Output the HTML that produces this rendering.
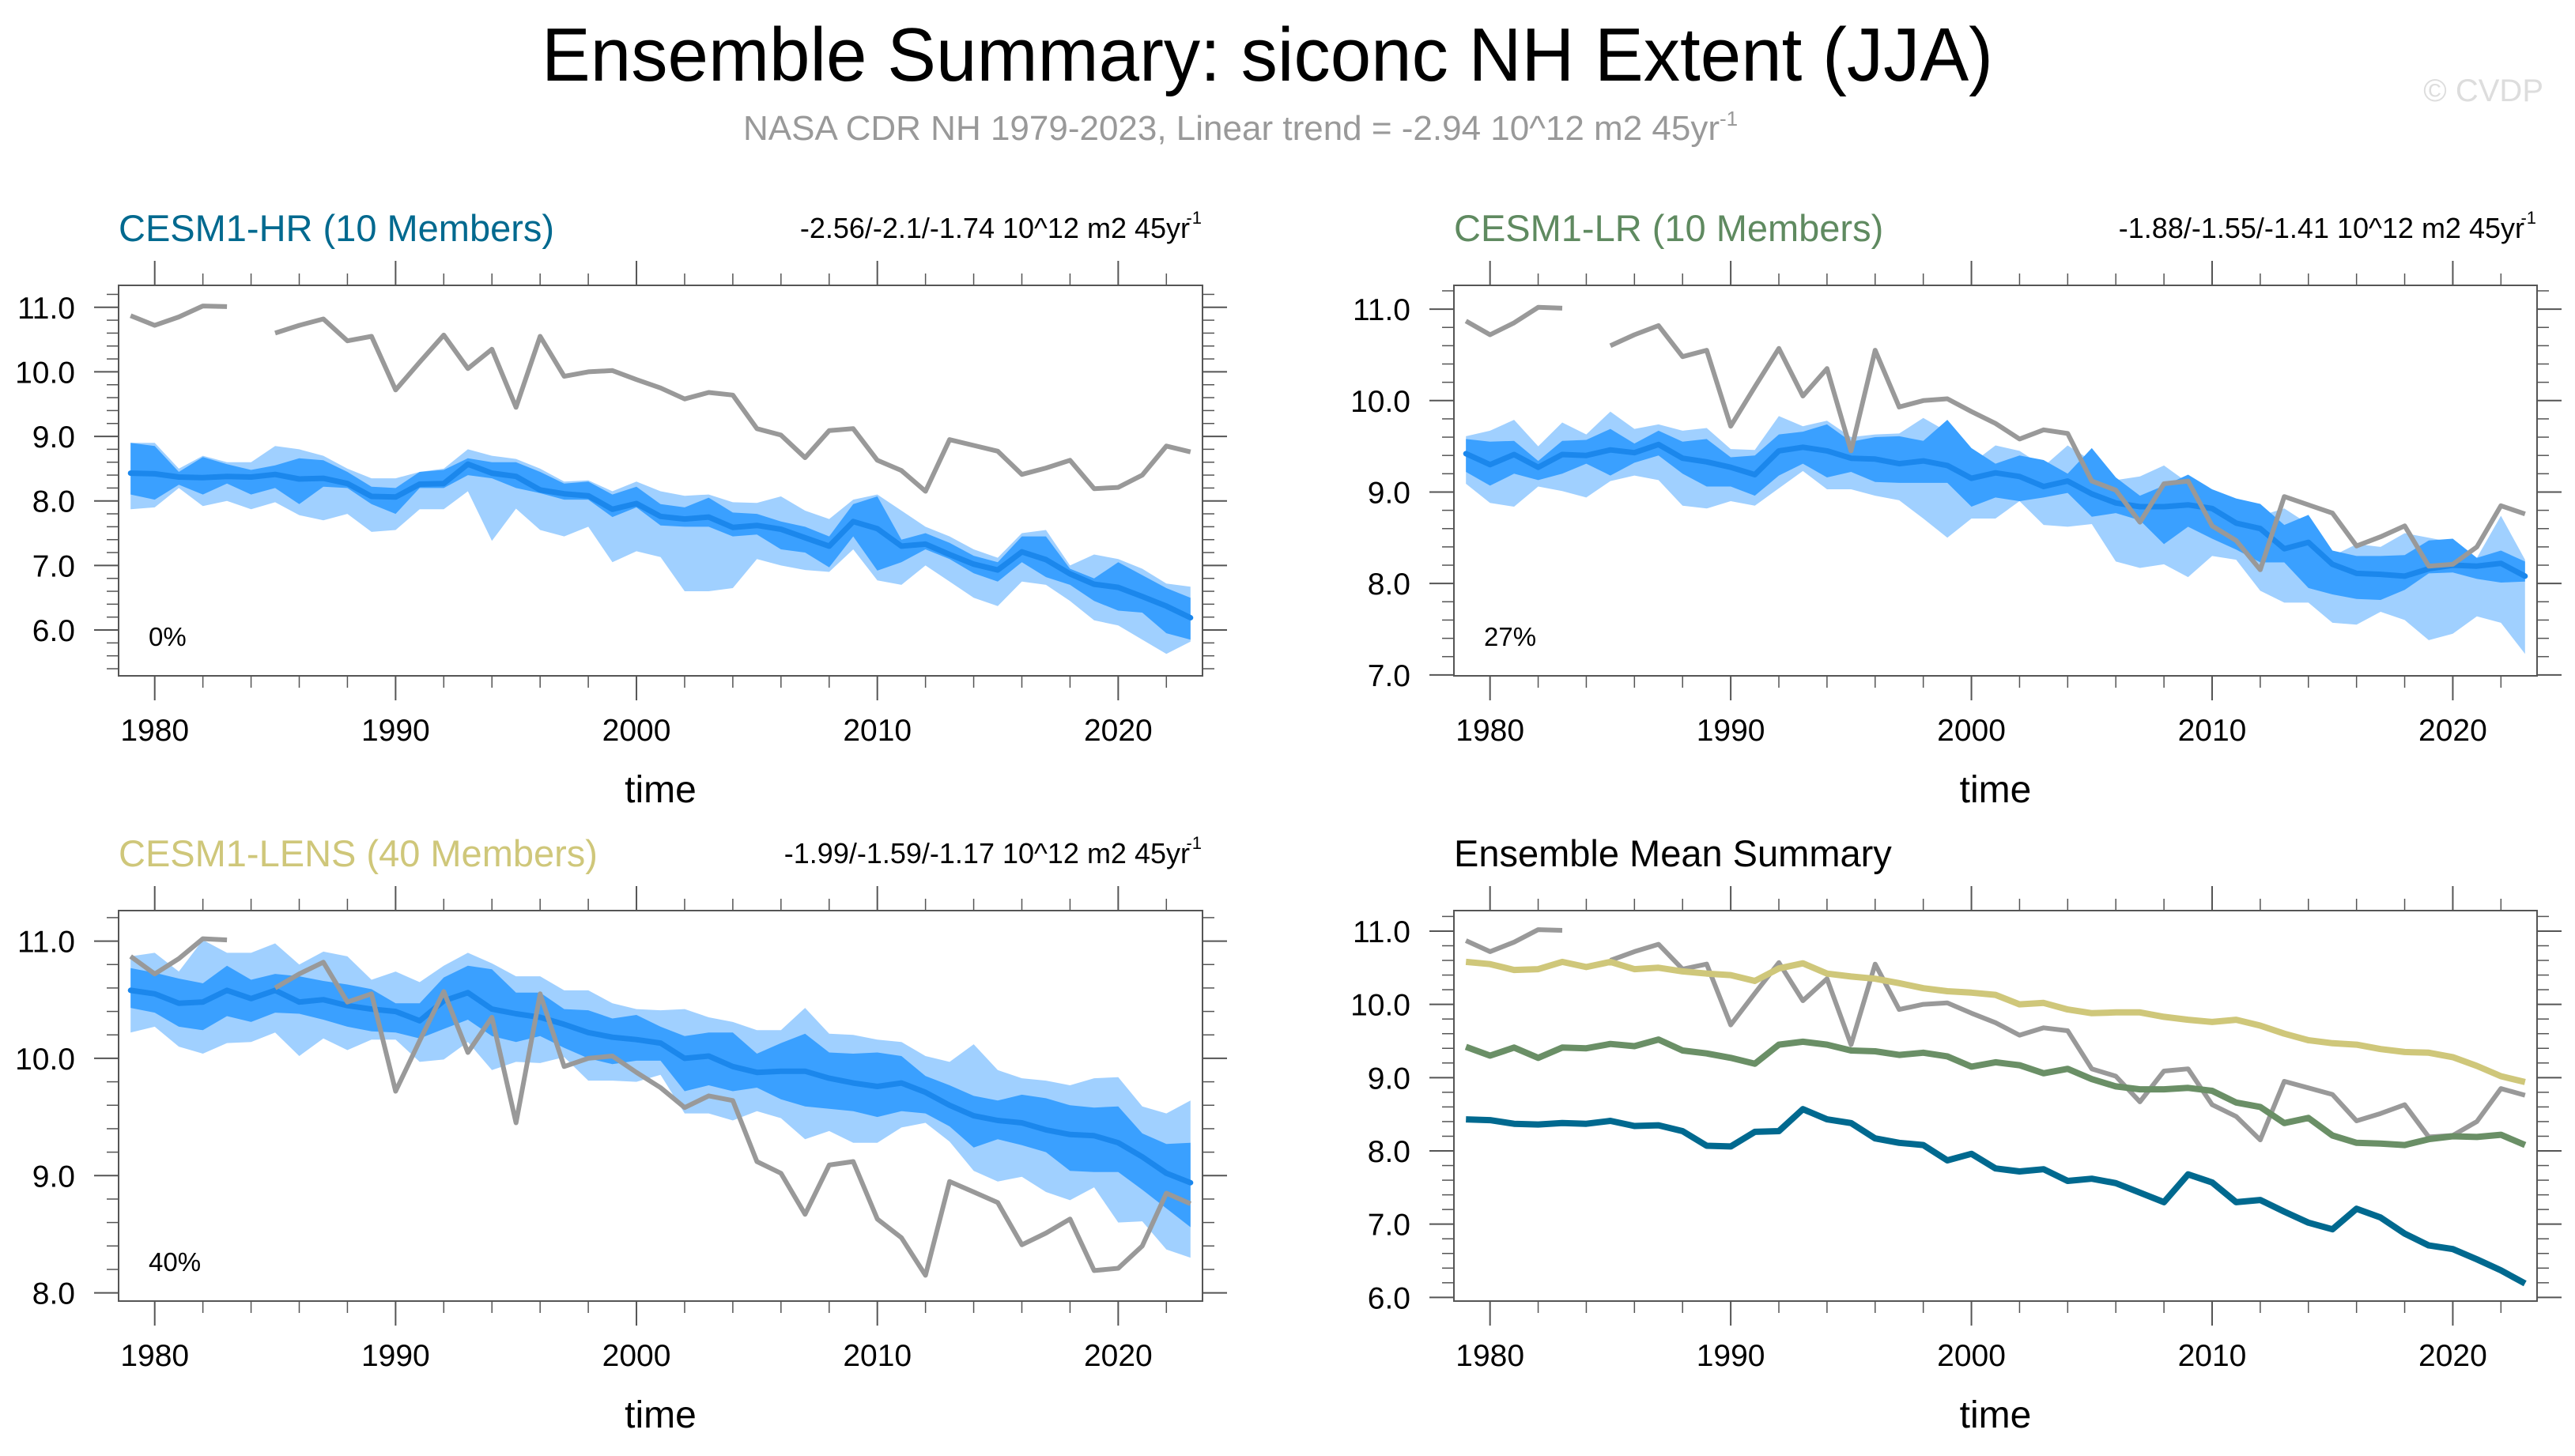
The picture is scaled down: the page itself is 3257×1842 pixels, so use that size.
<!DOCTYPE html>
<html><head><meta charset="utf-8">
<style>
html,body{margin:0;padding:0;background:#fff;}
svg{display:block;font-family:"Liberation Sans",Arial,sans-serif;}
</style></head>
<body>
<svg id="chart" width="3257" height="1842" viewBox="0 0 3257 1842" xmlns="http://www.w3.org/2000/svg">
<text x="1603" y="102" font-size="96" text-anchor="middle" textLength="1836" lengthAdjust="spacingAndGlyphs">Ensemble Summary: siconc NH Extent (JJA)</text>
<text x="940" y="177" font-size="44" fill="#999">NASA CDR NH 1979-2023, Linear trend = -2.94 10^12 m2 45yr<tspan dy="-18" font-size="26">-1</tspan></text>
<text x="3217" y="128" font-size="40" fill="#ddd" text-anchor="end">© CVDP</text>
<g id="panels"></g>
</svg>
<script>
// ---- data (1979-2023) ----
const years = [1979,1980,1981,1982,1983,1984,1985,1986,1987,1988,1989,1990,1991,1992,1993,1994,1995,1996,1997,1998,1999,2000,2001,2002,2003,2004,2005,2006,2007,2008,2009,2010,2011,2012,2013,2014,2015,2016,2017,2018,2019,2020,2021,2022,2023];
const obs = [10.87,10.72,10.85,11.02,11.01,null,10.6,10.72,10.82,10.48,10.55,9.72,10.15,10.57,10.05,10.35,9.45,10.55,9.93,10.0,10.02,9.88,9.75,9.58,9.68,9.64,9.12,9.02,8.67,9.09,9.12,8.63,8.47,8.15,8.95,8.86,8.77,8.41,8.51,8.63,8.19,8.21,8.4,8.85,8.76];

const hrMean = [8.43,8.42,8.37,8.36,8.38,8.37,8.41,8.34,8.35,8.27,8.07,8.06,8.26,8.27,8.57,8.43,8.38,8.17,8.11,8.08,7.87,7.96,7.76,7.72,7.75,7.59,7.62,7.56,7.43,7.30,7.68,7.57,7.30,7.33,7.17,7.02,6.93,7.21,7.09,6.87,6.71,6.66,6.52,6.37,6.19];
const hrOuterHi = [8.9,8.9,8.5,8.7,8.6,8.6,8.85,8.8,8.7,8.5,8.35,8.35,8.45,8.5,8.8,8.7,8.65,8.5,8.3,8.32,8.15,8.3,8.15,8.08,8.1,7.98,7.97,8.07,7.85,7.72,8.02,8.1,7.85,7.6,7.45,7.25,7.12,7.5,7.55,7.0,7.17,7.1,6.95,6.72,6.67];
const hrInnerHi = [8.9,8.85,8.45,8.68,8.57,8.48,8.55,8.66,8.63,8.45,8.22,8.2,8.45,8.48,8.66,8.6,8.6,8.45,8.27,8.3,8.1,8.22,7.95,7.9,8.05,7.82,7.8,7.68,7.6,7.45,7.95,8.07,7.4,7.5,7.35,7.15,7.05,7.45,7.45,6.95,6.8,7.05,6.85,6.65,6.5];
const hrInnerLo = [8.1,8.02,8.25,8.1,8.27,8.1,8.2,7.95,8.22,8.2,7.95,7.8,8.2,8.2,8.4,8.35,8.2,8.12,8.02,8.02,7.75,7.9,7.62,7.6,7.6,7.45,7.48,7.25,7.2,6.97,7.45,6.92,7.05,7.25,7.1,6.88,6.75,7.05,6.82,6.7,6.45,6.3,6.27,5.95,5.85];
const hrOuterLo = [7.87,7.9,8.2,7.92,8.0,7.87,7.98,7.78,7.7,7.8,7.52,7.55,7.87,7.87,8.15,7.38,7.88,7.55,7.45,7.6,7.05,7.22,7.13,6.6,6.6,6.65,7.1,7.0,6.93,6.9,7.25,6.77,6.7,7.0,6.75,6.5,6.37,6.75,6.7,6.45,6.15,6.07,5.85,5.63,5.82];

const lrMean = [9.42,9.30,9.41,9.27,9.41,9.40,9.46,9.43,9.52,9.37,9.33,9.27,9.19,9.45,9.49,9.45,9.37,9.36,9.31,9.34,9.29,9.15,9.21,9.17,9.06,9.12,8.98,8.88,8.84,8.84,8.86,8.82,8.66,8.60,8.38,8.45,8.21,8.11,8.10,8.08,8.16,8.20,8.19,8.22,8.08];
const lrOuterHi = [9.61,9.67,9.79,9.50,9.76,9.63,9.88,9.69,9.74,9.67,9.70,9.47,9.46,9.83,9.72,9.78,9.60,9.63,9.64,9.81,9.66,9.31,9.51,9.45,9.28,9.51,9.34,9.13,9.17,9.29,9.10,8.92,8.87,8.74,8.82,8.65,8.30,8.43,8.40,8.55,8.50,8.45,8.28,8.74,8.26];
const lrInnerHi = [9.58,9.55,9.56,9.34,9.56,9.57,9.69,9.53,9.67,9.55,9.58,9.38,9.40,9.63,9.66,9.74,9.55,9.60,9.61,9.56,9.79,9.48,9.31,9.40,9.35,9.20,9.48,9.16,8.96,9.07,9.19,9.03,8.93,8.87,8.64,8.75,8.36,8.30,8.30,8.31,8.47,8.49,8.28,8.36,8.24];
const lrInnerLo = [9.22,9.07,9.20,9.13,9.20,9.31,9.18,9.32,9.40,9.20,9.06,9.06,8.96,9.18,9.31,9.16,9.22,9.11,9.10,9.10,9.10,8.84,8.94,8.90,8.94,8.99,8.73,8.77,8.69,8.43,8.62,8.49,8.37,8.23,8.23,7.95,7.88,7.83,7.82,7.93,8.11,8.12,8.05,8.01,8.02];
const lrOuterLo = [9.09,8.88,8.84,9.06,9.01,8.94,9.12,9.18,9.13,8.85,8.82,8.90,8.85,9.04,9.23,9.03,9.03,8.96,8.91,8.71,8.50,8.71,8.71,8.90,8.64,8.62,8.65,8.24,8.17,8.21,8.07,8.30,8.26,7.92,7.79,7.79,7.57,7.55,7.69,7.60,7.38,7.45,7.64,7.57,7.23];

const lensMean = [10.58,10.55,10.47,10.48,10.58,10.51,10.58,10.48,10.50,10.45,10.42,10.40,10.32,10.49,10.56,10.42,10.38,10.35,10.29,10.22,10.18,10.16,10.13,10.0,10.02,9.93,9.88,9.89,9.89,9.83,9.79,9.76,9.79,9.71,9.60,9.51,9.47,9.45,9.39,9.35,9.34,9.28,9.16,9.02,8.94];
const lensOuterHi = [10.87,10.90,10.74,11.01,10.90,10.90,10.98,10.80,10.91,10.87,10.67,10.74,10.65,10.79,10.90,10.81,10.70,10.70,10.58,10.58,10.47,10.42,10.41,10.42,10.35,10.31,10.24,10.24,10.43,10.21,10.20,10.16,10.14,10.02,9.97,10.12,9.90,9.83,9.81,9.77,9.83,9.84,9.59,9.53,9.64];
const lensInnerHi = [10.77,10.73,10.68,10.64,10.79,10.67,10.72,10.70,10.66,10.63,10.59,10.47,10.47,10.69,10.79,10.76,10.56,10.56,10.42,10.41,10.34,10.37,10.27,10.19,10.22,10.22,10.04,10.13,10.21,10.05,10.04,10.05,10.02,9.85,9.77,9.68,9.64,9.69,9.66,9.60,9.58,9.59,9.36,9.27,9.28];
const lensInnerLo = [10.43,10.39,10.27,10.24,10.36,10.31,10.39,10.38,10.33,10.27,10.23,10.22,10.17,10.25,10.33,10.19,10.14,10.19,10.09,10.0,9.95,9.98,9.98,9.72,9.77,9.72,9.75,9.65,9.59,9.57,9.55,9.50,9.55,9.53,9.42,9.24,9.31,9.26,9.20,9.04,9.03,9.03,8.88,8.72,8.56];
const lensOuterLo = [10.22,10.27,10.10,10.04,10.13,10.14,10.22,10.02,10.17,10.07,10.16,10.16,9.97,9.99,10.14,9.90,9.97,9.96,10.01,9.81,9.81,9.80,9.86,9.53,9.53,9.47,9.55,9.49,9.31,9.38,9.28,9.28,9.41,9.45,9.29,9.04,8.95,8.99,8.86,8.79,8.90,8.60,8.61,8.37,8.30];

const xTickYears = [1980,1990,2000,2010,2020];
const pctLabels = ["0%","27%","40%"];

// ---- drawing ----
const NS = "http://www.w3.org/2000/svg";
const root = document.getElementById('panels');
function mk(tag, attrs, parent){
  const e = document.createElementNS(NS, tag);
  for (const k in attrs) e.setAttribute(k, attrs[k]);
  (parent||root).appendChild(e);
  return e;
}
const LX = [150,1521], RX = [1839,3209];
const TY = [361,855], BY = [1152,1646];
const panels = [
  {key:'hr', x:LX, y:TY, ymin:5.29, ymax:11.34, yt:[6,7,8,9,10,11], title:'CESM1-HR (10 Members)', tcol:'#00698f', trend:'-2.56/-2.1/-1.74 10^12 m2 45yr', pct:pctLabels[0],
   mean:hrMean, oh:hrOuterHi, ih:hrInnerHi, il:hrInnerLo, ol:hrOuterLo},
  {key:'lr', x:RX, y:TY, ymin:6.99, ymax:11.26, yt:[7,8,9,10,11], title:'CESM1-LR (10 Members)', tcol:'#5f8a60', trend:'-1.88/-1.55/-1.41 10^12 m2 45yr', pct:pctLabels[1],
   mean:lrMean, oh:lrOuterHi, ih:lrInnerHi, il:lrInnerLo, ol:lrOuterLo},
  {key:'lens', x:LX, y:BY, ymin:7.93, ymax:11.26, yt:[8,9,10,11], title:'CESM1-LENS (40 Members)', tcol:'#cfc77a', trend:'-1.99/-1.59/-1.17 10^12 m2 45yr', pct:pctLabels[2],
   mean:lensMean, oh:lensOuterHi, ih:lensInnerHi, il:lensInnerLo, ol:lensOuterLo},
  {key:'summary', x:RX, y:BY, ymin:5.95, ymax:11.28, yt:[6,7,8,9,10,11], title:'Ensemble Mean Summary', tcol:'#000', summary:true}
];

function linePath(sx, sy, vals){
  let d='', pen=false;
  vals.forEach((v,i)=>{
    if (v===null){pen=false;return;}
    d += (pen?'L':'M') + sx(years[i]).toFixed(1) + ',' + sy(v).toFixed(1);
    pen=true;
  });
  return d;
}
function bandPath(sx, sy, hi, lo){
  let d='';
  hi.forEach((v,i)=>{ d += (i?'L':'M') + sx(years[i]).toFixed(1)+','+sy(v).toFixed(1); });
  for (let i=lo.length-1;i>=0;i--) d += 'L' + sx(years[i]).toFixed(1)+','+sy(lo[i]).toFixed(1);
  return d+'Z';
}

panels.forEach(p=>{
  const g = mk('g',{});
  
  
  const [x0,x1]=p.x, [y0,y1]=p.y;
  const sx = yr => x0 + (yr-1978.5)/45*(x1-x0);
  const sy = v => y1 - (v-p.ymin)/(p.ymax-p.ymin)*(y1-y0);
  const clipId = 'clip-'+p.key;
  const cp = mk('clipPath',{id:clipId}, g);
  mk('rect',{x:x0,y:y0,width:x1-x0,height:y1-y0}, cp);
  const plot = mk('g',{'clip-path':'url(#'+clipId+')'}, g);

  if (!p.summary){
    const lb = mk('path',{d:bandPath(sx,sy,p.oh,p.ol), fill:'#a0d0ff'}, plot);
    
    
    const db = mk('path',{d:bandPath(sx,sy,p.ih,p.il), fill:'#3aa0ff'}, plot);
    
    
    const ml = mk('path',{d:linePath(sx,sy,p.mean), fill:'none', stroke:'#1b87ec', 'stroke-width':7, 'stroke-linejoin':'round','stroke-linecap':'round'}, plot);
    
    
    const ol = mk('path',{d:linePath(sx,sy,obs), fill:'none', stroke:'#999', 'stroke-width':6, 'stroke-linejoin':'round'}, plot);
    
    
  } else {
    const ol = mk('path',{d:linePath(sx,sy,obs), fill:'none', stroke:'#999', 'stroke-width':6, 'stroke-linejoin':'round'}, plot);
    
    
    const series = [[lensMean,'#cfc77a','lens-mean-line'],[lrMean,'#6a8f66','lr-mean-line'],[hrMean,'#00698f','hr-mean-line']];
    series.forEach(s=>{
      const l = mk('path',{d:linePath(sx,sy,s[0]), fill:'none', stroke:s[1], 'stroke-width':8, 'stroke-linejoin':'round'}, plot);
      
      
    });
  }
  // frame
  const fr = mk('rect',{x:x0,y:y0,width:x1-x0,height:y1-y0,fill:'none',stroke:'#555','stroke-width':2}, g);
  
  
  // x ticks
  for (let yr=1980; yr<=2022; yr+=2){
    const major = yr%10===0, L = major?31:15, X=sx(yr);
    mk('line',{x1:X,x2:X,y1:y0,y2:y0-L,stroke:'#555','stroke-width':major?2:1.5}, g);
    mk('line',{x1:X,x2:X,y1:y1,y2:y1+L,stroke:'#555','stroke-width':major?2:1.5}, g);
  }
  xTickYears.forEach(yr=>{
    const t = mk('text',{x:sx(yr),y:y1+82,'font-size':39,'text-anchor':'middle'}, g);
    
    
    t.textContent = yr;
  });
  // y ticks
  const start = Math.ceil(p.ymin*5-1e-6), end = Math.floor(p.ymax*5+1e-6);
  for (let k=start;k<=end;k++){
    const v=k/5, major = k%5===0, L=major?31:15, Y=sy(v);
    mk('line',{x1:x0,x2:x0-L,y1:Y,y2:Y,stroke:'#555','stroke-width':major?2:1.5}, g);
    mk('line',{x1:x1,x2:x1+L,y1:Y,y2:Y,stroke:'#555','stroke-width':major?2:1.5}, g);
  }
  p.yt.forEach(v=>{
    const t = mk('text',{x:x0-55,y:sy(v)+14,'font-size':39,'text-anchor':'end'}, g);
    
    
    t.textContent = v.toFixed(1);
  });
  // axis title
  const at = mk('text',{x:(x0+x1)/2,y:y1+160,'font-size':48,'text-anchor':'middle'}, g);
  
  
  at.textContent = 'time';
  // panel title
  const pt = mk('text',{x:x0,y:y0-56,'font-size':47,fill:p.tcol}, g);
  
  
  pt.textContent = p.title;
  if (!p.summary){
    const tr = mk('text',{x:x1-16,y:y0-60,'font-size':36,'text-anchor':'end'}, g);
    
    
    tr.textContent = p.trend;
    const sup = mk('text',{x:x1-1,y:y0-78,'font-size':22,'text-anchor':'end'}, g);
    
    
    sup.textContent = '-1';
    const pc = mk('text',{x:x0+38,y:y1-38,'font-size':33}, g);
    
    
    pc.textContent = p.pct;
  }
});
</script>
</body></html>
